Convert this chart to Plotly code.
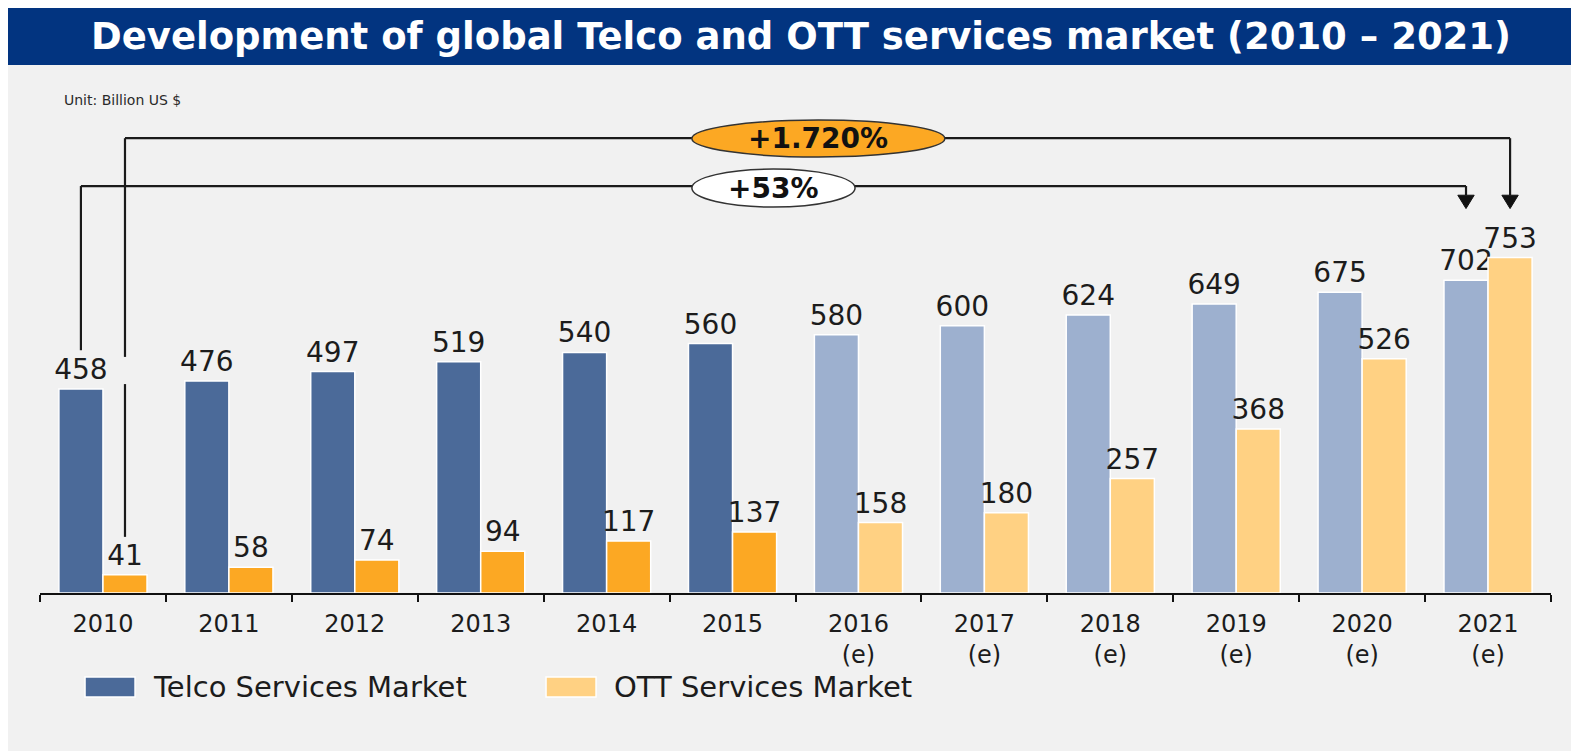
import plotly.graph_objects as go

# ---------------- data ----------------
years = ["2010", "2011", "2012", "2013", "2014", "2015",
         "2016", "2017", "2018", "2019", "2020", "2021"]
tick_labels = ["2010", "2011", "2012", "2013", "2014", "2015",
               "2016<br>(e)", "2017<br>(e)", "2018<br>(e)", "2019<br>(e)", "2020<br>(e)", "2021<br>(e)"]
telco = [458, 476, 497, 519, 540, 560, 580, 600, 624, 649, 675, 702]
ott = [41, 58, 74, 94, 117, 137, 158, 180, 257, 368, 526, 753]
estimated = [False] * 6 + [True] * 6

series_names = ["Telco Services Market", "OTT Services Market"]
growth_labels = ["+1.720%", "+53%"]

# ---------------- styles ----------------
TELCO_ACT, TELCO_EST = "#4b6a99", "#9db0cf"
OTT_ACT, OTT_EST = "#fca823", "#ffd183"
BANNER = "#023480"
BG = "#f1f1f1"
TXT = "#1c1c1c"
FONT = "DejaVu Sans"

BARGAP = 0.3
bar_w = (1 - BARGAP) / 2
off_telco, off_ott = -bar_w / 2, bar_w / 2

telco_colors = [TELCO_EST if e else TELCO_ACT for e in estimated]
ott_colors = [OTT_EST if e else OTT_ACT for e in estimated]

fig = go.Figure()
fig.add_trace(go.Bar(
    x=years, y=telco, name=series_names[0],
    marker=dict(color=telco_colors, line=dict(color="white", width=1.5)),
    texttemplate="%{y}", textposition="outside", constraintext="none",
    textfont=dict(family=FONT, size=28, color=TXT), cliponaxis=False,
))
fig.add_trace(go.Bar(
    x=years, y=ott, name=series_names[1],
    marker=dict(color=ott_colors, line=dict(color="white", width=1.5)),
    texttemplate="%{y}", textposition="outside", constraintext="none",
    textfont=dict(family=FONT, size=28, color=TXT), cliponaxis=False,
))

shapes = []
annotations = []

# banner + headings
shapes.append(dict(type="rect", xref="paper", yref="paper", x0=-0.0225, x1=1.03, y0=1.0776, y1=1.25,
                   fillcolor=BANNER, line_width=0))
annotations.append(dict(xref="paper", yref="paper", x=0.5036, y=1.1367, showarrow=False,
                        text="Development of global Telco and OTT services market (2010 \u2013 2021)",
                        font=dict(family="DejaVu Sans", size=37, color="white", weight="bold"),
                        xanchor="center", yanchor="middle"))
annotations.append(dict(xref="paper", yref="paper", x=0.0146, y=1.006, showarrow=False,
                        text="Unit: Billion US $", font=dict(family=FONT, size=14, color="#2a2a2a"),
                        xanchor="left", yanchor="middle"))

# growth brackets
LINE = dict(color="#1a1a1a", width=2.2)
first, last = 0, len(years) - 1
y_top, y_low, y_tip = 1021, 913.6, 863
head_h, head_hw = 30, 0.065

# upper bracket (OTT 2010 -> OTT 2021)
xu0, xu1 = first + off_ott, last + off_ott
shapes.append(dict(type="line", xref="x", yref="y", x0=xu0, x1=xu0, y0=126, y1=469, line=LINE))
shapes.append(dict(type="line", xref="x", yref="y", x0=xu0, x1=xu0, y0=530, y1=y_top, line=LINE))
shapes.append(dict(type="line", xref="x", yref="y", x0=xu0, x1=xu1, y0=y_top, y1=y_top, line=LINE))
shapes.append(dict(type="line", xref="x", yref="y", x0=xu1, x1=xu1, y0=y_top, y1=y_tip + head_h, line=LINE))
shapes.append(dict(type="path", xref="x", yref="y",
                   path=f"M {xu1-head_hw},{y_tip+head_h} L {xu1+head_hw},{y_tip+head_h} L {xu1},{y_tip} Z",
                   fillcolor="#111", line=dict(color="#111", width=1)))

# lower bracket (Telco 2010 -> Telco 2021)
xl0, xl1 = first + off_telco, last + off_telco
shapes.append(dict(type="line", xref="x", yref="y", x0=xl0, x1=xl0, y0=545, y1=y_low, line=LINE))
shapes.append(dict(type="line", xref="x", yref="y", x0=xl0, x1=xl1, y0=y_low, y1=y_low, line=LINE))
shapes.append(dict(type="line", xref="x", yref="y", x0=xl1, x1=xl1, y0=y_low, y1=y_tip + head_h, line=LINE))
shapes.append(dict(type="path", xref="x", yref="y",
                   path=f"M {xl1-head_hw},{y_tip+head_h} L {xl1+head_hw},{y_tip+head_h} L {xl1},{y_tip} Z",
                   fillcolor="#111", line=dict(color="#111", width=1)))

# ellipses
shapes.append(dict(type="circle", xref="x", yref="y", x0=4.677, x1=6.686, y0=978.7, y1=1061.7,
                   fillcolor=OTT_ACT, line=dict(color="#333", width=1.5)))
shapes.append(dict(type="circle", xref="x", yref="y", x0=4.677, x1=5.973, y0=866.4, y1=951.7,
                   fillcolor="white", line=dict(color="#333", width=1.5)))
annotations.append(dict(xref="x", yref="y", x=(4.677 + 6.686) / 2, y=(978.7 + 1061.7) / 2, showarrow=False,
                        text=growth_labels[0], font=dict(family=FONT, size=28, color="#111", weight="bold"),
                        xanchor="center", yanchor="middle"))
annotations.append(dict(xref="x", yref="y", x=(4.677 + 5.973) / 2, y=(866.4 + 951.7) / 2, showarrow=False,
                        text=growth_labels[1], font=dict(family=FONT, size=28, color="#111", weight="bold"),
                        xanchor="center", yanchor="middle"))

# manual legend
leg_y0, leg_y1, leg_ym = -0.2122, -0.1714, -0.1918
for (sx0, sx1, tx), col, name in [((0.0298, 0.0629, 0.0735), TELCO_ACT, series_names[0]),
                                   ((0.3349, 0.3680, 0.3786), OTT_EST, series_names[1])]:
    shapes.append(dict(type="rect", xref="paper", yref="paper", x0=sx0, x1=sx1, y0=leg_y0, y1=leg_y1,
                       fillcolor=col, line=dict(color="white", width=1.5)))
    annotations.append(dict(xref="paper", yref="paper", x=tx, y=leg_ym, showarrow=False, text=name,
                            font=dict(family=FONT, size=29, color=TXT), xanchor="left", yanchor="middle"))

fig.update_layout(
    width=1571, height=743,
    barmode="group", bargap=BARGAP, bargroupgap=0,
    paper_bgcolor=BG, plot_bgcolor=BG,
    margin=dict(l=32, r=28, t=95, b=158),
    showlegend=False,
    shapes=shapes, annotations=annotations,
    xaxis=dict(type="category", categoryorder="array", categoryarray=years,
               tickvals=years, ticktext=tick_labels,
               tickson="boundaries", ticks="outside", ticklen=7, tickwidth=2, tickcolor="#111",
               showline=True, linecolor="#111", linewidth=2, showgrid=False, zeroline=False,
               tickfont=dict(family=FONT, size=24, color=TXT), ticklabelstandoff=8),
    yaxis=dict(range=[0, 1100], visible=False, showgrid=False, zeroline=False),
)

fig.write_html("out.html")
